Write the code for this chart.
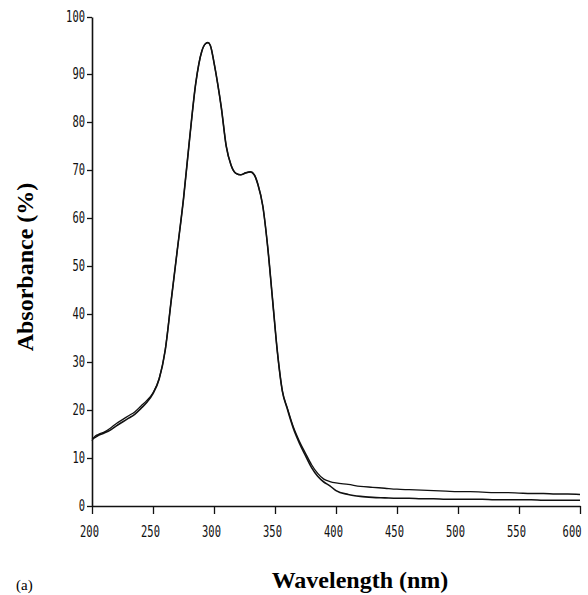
<!DOCTYPE html>
<html>
<head>
<meta charset="utf-8">
<script src="https://cdn.jsdelivr.net/npm/d3@7"></script>
<style>
  body { margin: 0; background: #fff; }
  svg { display: block; }
</style>
</head>
<body>
<div id="chart"></div>
<script>
// wavelengths (nm)
const wavelengths = [200, 202, 205, 210, 215, 220, 225, 230, 235, 240, 245, 250, 255, 260, 265, 270, 275, 280, 285, 290, 293, 295, 297, 300, 303, 306, 310, 314, 318, 322, 326, 330, 333, 336, 340, 344, 348, 352, 356, 360, 365, 370, 375, 380, 385, 390, 395, 400, 410, 420, 430, 440, 450, 460, 470, 480, 490, 500, 510, 520, 530, 540, 550, 560, 570, 580, 590, 600]

// upper trace in the tail
const absorbanceA = [13.6, 14.4, 14.9, 15.4, 16.2, 17.2, 18.0, 18.8, 19.6, 20.8, 22.0, 23.6, 26.5, 32.5, 43, 53.5, 64, 76.5, 88, 94, 95.3, 95.5, 95, 92, 88, 83, 75, 71, 69.3, 69.0, 69.4, 69.6, 69, 67, 62.5, 54, 43, 32, 24, 20.5, 16.5, 13.5, 11, 8.6, 6.8, 5.6, 5.1, 4.8, 4.5, 4.1, 3.9, 3.7, 3.5, 3.4, 3.3, 3.2, 3.1, 3.0, 3.0, 2.9, 2.8, 2.8, 2.7, 2.6, 2.6, 2.5, 2.5, 2.4]

// lower trace in the tail
const absorbanceB = [14.0, 14.2, 14.7, 15.2, 15.8, 16.7, 17.5, 18.3, 19.1, 20.3, 21.6, 23.4, 26.4, 32.4, 43, 53.5, 64, 76.5, 88, 94, 95.3, 95.5, 95, 92, 88, 83, 75, 71, 69.3, 69.0, 69.4, 69.6, 69, 67, 62.5, 54, 43, 32, 24, 20.3, 16.2, 13.1, 10.5, 8.0, 6.2, 5.0, 4.2, 3.2, 2.4, 2.0, 1.8, 1.7, 1.6, 1.6, 1.5, 1.5, 1.4, 1.4, 1.4, 1.4, 1.3, 1.3, 1.3, 1.3, 1.2, 1.2, 1.2, 1.2]

const xTicks = [200, 250, 300, 350, 400, 450, 500, 550, 600]
const yTicks = [0, 10, 20, 30, 40, 50, 60, 70, 80, 90, 100]

const width = 588
const height = 595

const svg = d3
  .select('#chart')
  .append('svg')
  .attr('width', width)
  .attr('height', height)

const xScale = d3
  .scaleLinear()
  .domain([200, 600])
  .range([92, 580])

// the printed axis has a longer gap between 90 and 100
const yScale = d3
  .scaleLinear()
  .domain([0, 90, 100])
  .range([506, 74, 17])

const line = d3
  .line()
  .x((d, i) => xScale(wavelengths[i]))
  .y(d => yScale(d))
  .curve(d3.curveMonotoneX)

// axes
const xAxis = d3
  .axisBottom(xScale)
  .tickValues(xTicks)
  .tickSize(8)
  .tickSizeOuter(0)
  .tickPadding(12)
  .tickFormat(d3.format('d'))

const yAxis = d3
  .axisLeft(yScale)
  .tickValues(yTicks)
  .tickSize(5)
  .tickSizeOuter(0)
  .tickPadding(2)
  .tickFormat(d3.format('d'))

const gx = svg
  .append('g')
  .attr('transform', 'translate(0,' + yScale(0) + ')')
  .call(xAxis)

const gy = svg
  .append('g')
  .attr('transform', 'translate(' + xScale(200) + ',0)')
  .call(yAxis)

svg.selectAll('.domain').attr('stroke', '#111').attr('stroke-width', 1.6)
svg.selectAll('.tick line').attr('stroke', '#111').attr('stroke-width', 1.3)

// narrow plotter-style digits
svg
  .selectAll('.tick text')
  .attr('font-family', 'DejaVu Sans Mono, monospace')
  .attr('font-size', 15)
  .attr('fill', '#111')
  .attr('lengthAdjust', 'spacingAndGlyphs')
  .attr('textLength', function() {
    return this.textContent.length * 6.3
  })

gx.selectAll('.tick text').attr('dx', -3)

// last label sits tight against the right edge
gx.selectAll('.tick text')
  .filter(d => d === 600)
  .attr('text-anchor', 'end')
  .attr('dx', 1)

// the two traces
svg
  .append('path')
  .datum(absorbanceA)
  .attr('d', line)
  .attr('fill', 'none')
  .attr('stroke', '#111')
  .attr('stroke-width', 1.3)

svg
  .append('path')
  .datum(absorbanceB)
  .attr('d', line)
  .attr('fill', 'none')
  .attr('stroke', '#111')
  .attr('stroke-width', 1.6)

// titles
svg
  .append('text')
  .attr('transform', 'translate(33,267) rotate(-90)')
  .attr('text-anchor', 'middle')
  .attr('font-family', 'Liberation Serif, Times New Roman, serif')
  .attr('font-weight', 700)
  .attr('font-size', 24)
  .text('Absorbance (%)')

svg
  .append('text')
  .attr('x', 360)
  .attr('y', 588)
  .attr('text-anchor', 'middle')
  .attr('font-family', 'Liberation Serif, Times New Roman, serif')
  .attr('font-weight', 700)
  .attr('font-size', 24)
  .text('Wavelength (nm)')

svg
  .append('text')
  .attr('x', 16)
  .attr('y', 590)
  .attr('font-family', 'Liberation Serif, Times New Roman, serif')
  .attr('font-size', 15)
  .text('(a)')
</script>
</body>
</html>
